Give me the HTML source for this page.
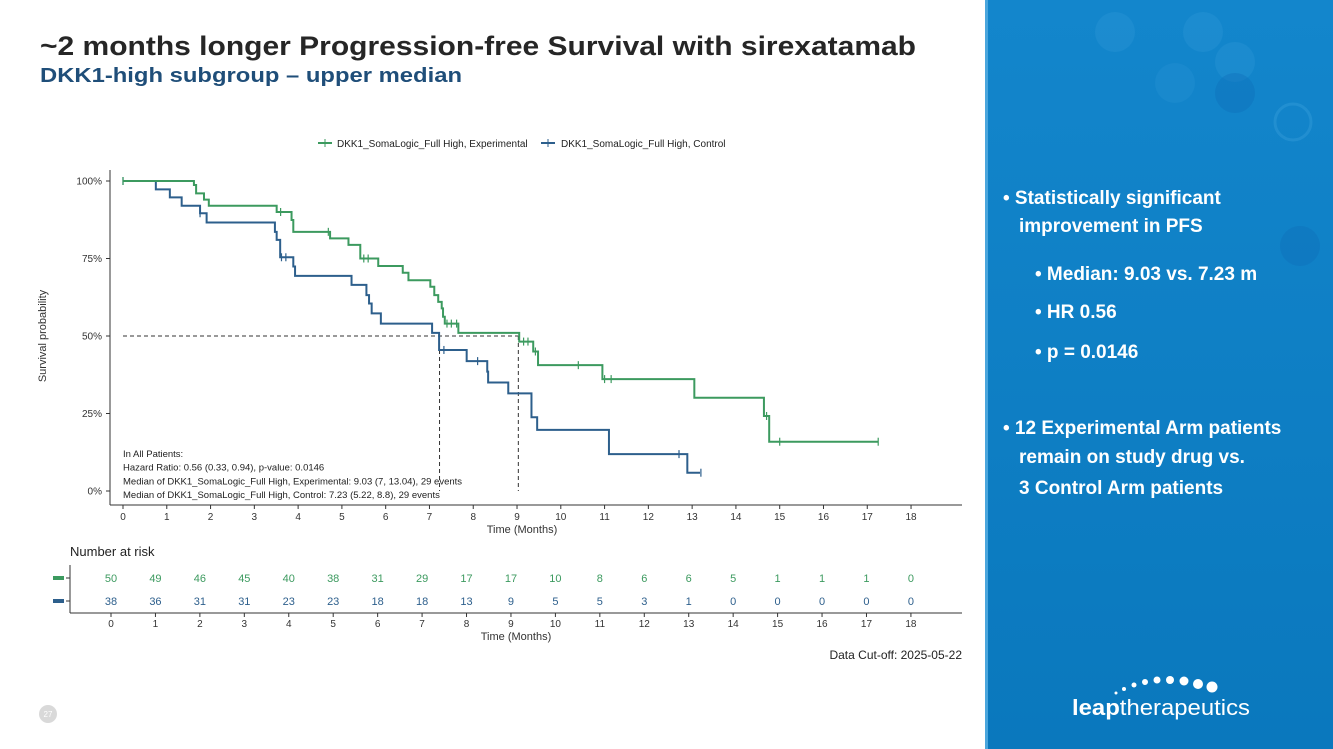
<!DOCTYPE html>
<html><head><meta charset="utf-8"><style>
html,body{margin:0;padding:0;background:#fff;}
svg{display:block;font-family:"Liberation Sans",sans-serif;}
</style></head><body>
<svg width="1333" height="749" viewBox="0 0 1333 749">
<defs>
<linearGradient id="pg" x1="0" y1="0" x2="0" y2="1"><stop offset="0" stop-color="#1386cc"/><stop offset="1" stop-color="#0a78bd"/></linearGradient>
</defs>
<g>
<rect x="985" y="0" width="348" height="749" fill="url(#pg)"/>
<rect x="985" y="0" width="3" height="749" fill="#4aa6dd"/>
<circle cx="1115" cy="32" r="20" fill="#2f97d6" opacity="0.35"/>
<circle cx="1203" cy="32" r="20" fill="#2f97d6" opacity="0.35"/>
<circle cx="1235" cy="62" r="20" fill="#2f97d6" opacity="0.35"/>
<circle cx="1235" cy="93" r="20" fill="#0f6fb8" opacity="0.4"/>
<circle cx="1293" cy="122" r="18" fill="none" stroke="#3aa0dc" stroke-width="3" opacity="0.4"/>
<circle cx="1300" cy="246" r="20" fill="#0f6fb8" opacity="0.4"/>
<circle cx="1175" cy="83" r="20" fill="#2f97d6" opacity="0.25"/>
<text x="1003" y="204" fill="#fff" font-size="19" font-weight="bold">•  Statistically significant</text>
<text x="1019" y="232" fill="#fff" font-size="19" font-weight="bold">improvement in PFS</text>
<text x="1035" y="280" fill="#fff" font-size="19" font-weight="bold">•  Median: 9.03 vs. 7.23 m</text>
<text x="1035" y="318" fill="#fff" font-size="19" font-weight="bold">•  HR 0.56</text>
<text x="1035" y="358" fill="#fff" font-size="19" font-weight="bold">•  p = 0.0146</text>
<text x="1003" y="434" fill="#fff" font-size="19" font-weight="bold">•  12 Experimental Arm patients</text>
<text x="1019" y="463" fill="#fff" font-size="19" font-weight="bold">remain on study drug vs.</text>
<text x="1019" y="494" fill="#fff" font-size="19" font-weight="bold">3 Control Arm patients</text>
<g>
<circle cx="1116" cy="693" r="1.5" fill="#fff"/><circle cx="1124" cy="689" r="2" fill="#fff"/><circle cx="1134" cy="685" r="2.5" fill="#fff"/>
<circle cx="1145" cy="682" r="3" fill="#fff"/><circle cx="1157" cy="680" r="3.5" fill="#fff"/><circle cx="1170" cy="680" r="4" fill="#fff"/>
<circle cx="1184" cy="681" r="4.5" fill="#fff"/><circle cx="1198" cy="684" r="5" fill="#fff"/><circle cx="1212" cy="687" r="5.5" fill="#fff"/>
<text x="1072" y="715" fill="#fff" font-size="22" textLength="178" lengthAdjust="spacingAndGlyphs"><tspan font-weight="bold">leap</tspan>therapeutics</text>
</g>
</g>
<text x="40" y="55" font-size="27" font-weight="bold" fill="#262626" textLength="876" lengthAdjust="spacingAndGlyphs">~2 months longer Progression-free Survival with sirexatamab</text>
<text x="40" y="82" font-size="20" font-weight="bold" fill="#1f4e79" textLength="422" lengthAdjust="spacingAndGlyphs">DKK1-high subgroup – upper median</text>
<g id="chart"></g>
<circle cx="48" cy="714" r="9" fill="#d9d9d9"/>
<text x="48" y="717" font-size="8" fill="#fff" text-anchor="middle">27</text>
</svg>
<script>
const expTimes=[0,1.62,1.67,1.85,1.96,3.51,3.85,3.89,4.73,5.15,5.42,5.83,6.39,6.52,7.02,7.11,7.2,7.28,7.31,7.35,7.66,9.05,9.37,9.48,10.95,13.05,14.64,14.76,17.25];
const expSurv=[100,98.7,96,94,92,90,87.4,83.6,81.5,79.4,75,72.6,70.4,68,65.9,63.2,61,58.9,56.2,54,51,48.2,45,40.6,36.1,30.1,24.2,15.9,15.9];
const ctlTimes=[0,0.75,1.07,1.34,1.76,1.91,3.47,3.51,3.59,3.89,3.93,5.22,5.56,5.62,5.68,5.89,7.06,7.22,7.85,8.32,8.34,8.8,9.33,9.46,11.1,12.89,13.18];
const ctlSurv=[100,97.3,94.7,92,89.6,86.6,83.6,81,75.4,72.4,69.4,66.5,63.2,60.5,57.3,54,51,45.5,41.9,38.5,35,31.5,23.8,19.7,11.9,5.9,5.9];
const expCensor=[0,3.6,4.69,5.5,5.6,7.4,7.5,7.62,9.15,9.25,9.42,10.4,11.0,11.15,14.7,15.0,17.25];
const ctlCensor=[0,1.76,3.62,3.72,7.33,8.1,12.7,13.2];
const xTicks=[0,1,2,3,4,5,6,7,8,9,10,11,12,13,14,15,16,17,18];
const yTicks=[0,25,50,75,100];
const yTickLabels=["0%","25%","50%","75%","100%"];
const expRisk=[50,49,46,45,40,38,31,29,17,17,10,8,6,6,5,1,1,1,0];
const ctlRisk=[38,36,31,31,23,23,18,18,13,9,5,5,3,1,0,0,0,0,0];
const medians=[7.23,9.03];
const GREEN="#3c9a5f",BLUE="#2d5f8c",NS="http://www.w3.org/2000/svg";
const xS=t=>123+t*43.78, yS=s=>491-s*3.1, xR=t=>111+t*44.44;
const g=document.getElementById('chart');
function el(tag,attrs,parent){const e=document.createElementNS(NS,tag);for(const k in attrs)e.setAttribute(k,attrs[k]);(parent||g).appendChild(e);return e;}
function txt(x,y,s,attrs){const e=el('text',Object.assign({x:x,y:y},attrs||{}));e.textContent=s;return e;}
let a=el('line',{x1:110,y1:170,x2:110,y2:505,stroke:'#333','stroke-width':1});

a=el('line',{x1:110,y1:505,x2:962,y2:505,stroke:'#333','stroke-width':1});

yTicks.forEach((v,i)=>{el('line',{x1:106,y1:yS(v),x2:110,y2:yS(v),stroke:'#333'});
 const t=txt(102,yS(v)+3.5,yTickLabels[i],{'font-size':10,'text-anchor':'end',fill:'#333'});
 });
xTicks.forEach(v=>{el('line',{x1:xS(v),y1:505,x2:xS(v),y2:509,stroke:'#333'});
 const t=txt(xS(v),520,String(v),{'font-size':10,'text-anchor':'middle',fill:'#333'});
 });
let t=txt(522,533,'Time (Months)',{'font-size':11,'text-anchor':'middle',fill:'#333'});

t=txt(0,0,'Survival probability',{'font-size':11,'text-anchor':'middle',fill:'#333',transform:'translate(46,336) rotate(-90)'});

let m=el('path',{d:`M${xS(0)},${yS(50)}H${xS(medians[1])}M${xS(medians[0])},${yS(50)}V${yS(0)}M${xS(medians[1])},${yS(50)}V${yS(0)}`,stroke:'#333','stroke-dasharray':'4,3',fill:'none'});

function curve(T,S,C,color,name){
 let d=`M${xS(T[0])},${yS(S[0])}`;
 for(let i=1;i<T.length;i++){d+=`H${xS(T[i])}V${yS(S[i])}`;}
 const p=el('path',{d:d,stroke:color,'stroke-width':2,fill:'none'});
 
 C.forEach(c=>{let s=S[0];for(let i=0;i<T.length;i++){if(T[i]<=c)s=S[i];}
  const k=el('line',{x1:xS(c),y1:yS(s)-4,x2:xS(c),y2:yS(s)+4,stroke:color,'stroke-width':1.2});
  });
}
curve(ctlTimes,ctlSurv,ctlCensor,BLUE,'control');
curve(expTimes,expSurv,expCensor,GREEN,'experimental');
const lg=el('g',{});
el('line',{x1:318,y1:143,x2:332,y2:143,stroke:GREEN,'stroke-width':2},lg);el('line',{x1:325,y1:139,x2:325,y2:147,stroke:GREEN},lg);
t=txt(337,147,'DKK1_SomaLogic_Full High, Experimental',{'font-size':10,fill:'#222'});lg.appendChild(t);

el('line',{x1:541,y1:143,x2:555,y2:143,stroke:BLUE,'stroke-width':2},lg);el('line',{x1:548,y1:139,x2:548,y2:147,stroke:BLUE},lg);
t=txt(561,147,'DKK1_SomaLogic_Full High, Control',{'font-size':10,fill:'#222'});lg.appendChild(t);

const ann=['In All Patients:','Hazard Ratio: 0.56 (0.33, 0.94), p-value: 0.0146','Median of DKK1_SomaLogic_Full High, Experimental: 9.03 (7, 13.04), 29 events','Median of DKK1_SomaLogic_Full High, Control: 7.23 (5.22, 8.8), 29 events'];
ann.forEach((s,i)=>{const e=txt(123,457+i*13.7,s,{'font-size':9.5,fill:'#222'});});
t=txt(70,556,'Number at risk',{'font-size':13,fill:'#222'});
el('line',{x1:70,y1:565,x2:70,y2:613,stroke:'#333'});el('line',{x1:70,y1:613,x2:962,y2:613,stroke:'#333'});
el('rect',{x:53,y:576,width:11,height:4,fill:GREEN});el('rect',{x:53,y:599,width:11,height:4,fill:BLUE});
el('line',{x1:66,y1:578,x2:70,y2:578,stroke:'#333'});el('line',{x1:66,y1:601,x2:70,y2:601,stroke:'#333'});
xTicks.forEach((v,i)=>{
 let e=txt(xR(v),582,String(expRisk[i]),{'font-size':11,'text-anchor':'middle',fill:GREEN});
 e=txt(xR(v),605,String(ctlRisk[i]),{'font-size':11,'text-anchor':'middle',fill:BLUE});
 el('line',{x1:xR(v),y1:613,x2:xR(v),y2:617,stroke:'#333'});
 e=txt(xR(v),627,String(v),{'font-size':10,'text-anchor':'middle',fill:'#333'});
});
t=txt(516,640,'Time (Months)',{'font-size':11,'text-anchor':'middle',fill:'#333'});
t=txt(962,659,'Data Cut-off: 2025-05-22',{'font-size':12,'text-anchor':'end',fill:'#222'});
</script>
</body></html>
